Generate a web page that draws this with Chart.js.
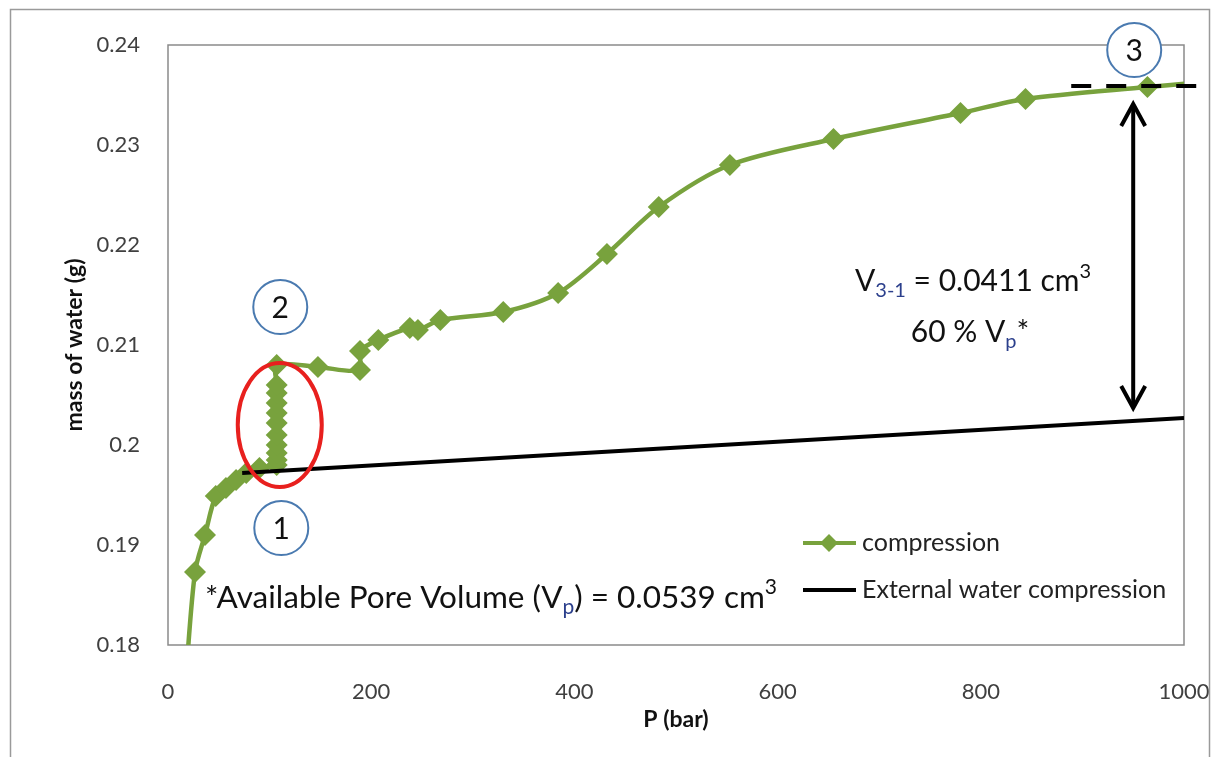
<!DOCTYPE html>
<html><head><meta charset="utf-8">
<script src="https://cdn.jsdelivr.net/npm/chart.js@4.4.0/dist/chart.umd.min.js"></script>
<style>html,body{margin:0;padding:0;background:#fff}#wrap{width:1216px;height:757px;position:relative}canvas{display:block}</style>
</head><body><div id="wrap"><canvas id="c" width="1216" height="757"></canvas></div>
<script>
// ---- data ----
const pressure = [17, 26.6, 36.4, 47, 57, 67, 77, 90,
  107, 107, 107, 107, 107, 107, 107, 107, 107, 107, 107,
  147.6, 189, 189, 207, 238, 246, 268, 330, 384, 432, 483, 553, 655, 780, 844, 964, 1010];
const massWater = [0.176, 0.1873, 0.1910, 0.1949, 0.1957, 0.1965, 0.1972, 0.1977,
  0.1980, 0.1985, 0.1992, 0.2000, 0.2010, 0.2022, 0.2032, 0.2042, 0.2052, 0.2060, 0.2080,
  0.2078, 0.2075, 0.2094, 0.2105, 0.2117, 0.2115, 0.2125, 0.2133, 0.2152, 0.2191, 0.2238, 0.2280, 0.2306, 0.2332, 0.2346, 0.2358, 0.2362];
const extPressure = [73, 1000];
const extMass = [0.1972, 0.2027];
const xTickValues = [0, 200, 400, 600, 800, 1000];
const yTickValues = [0.18, 0.19, 0.20, 0.21, 0.22, 0.23, 0.24];
const seriesNames = ['compression', 'External water compression'];

const GREEN = '#78a23d';
const FONT = 'Lato, "Open Sans", sans-serif';

const annot = {
  id: 'annot',
  beforeDatasetsDraw(chart) {
    const {ctx, chartArea: a} = chart;
    ctx.save();
    ctx.strokeStyle = '#8a8a8a'; ctx.lineWidth = 1.5;
    ctx.strokeRect(a.left, a.top, a.right - a.left, a.bottom - a.top);
    ctx.restore();
  },
  afterDraw(chart) {
    const {ctx, chartArea: a, scales: {x, y}} = chart;
    const X = v => x.getPixelForValue(v), Y = v => y.getPixelForValue(v);
    ctx.save();
    // outer frame
    ctx.strokeStyle = '#9a9a9a'; ctx.lineWidth = 1.5;
    ctx.strokeRect(10.5, 9.5, 1199, 800);
    // axis titles
    ctx.fillStyle = '#111';
    ctx.font = 'bold 23px ' + FONT;
    ctx.textAlign = 'center'; ctx.textBaseline = 'middle';
    ctx.fillText('P (bar)', (a.left + a.right) / 2, 720);
    ctx.save(); ctx.translate(75, (a.top + a.bottom) / 2); ctx.rotate(-Math.PI / 2);
    ctx.fillText('mass of water (g)', 0, 0); ctx.restore();

    // dashed line at point 3
    ctx.strokeStyle = '#000'; ctx.lineWidth = 4; ctx.setLineDash([20, 15]);
    ctx.beginPath(); ctx.moveTo(X(889), Y(0.2359)); ctx.lineTo(X(1016), Y(0.2359)); ctx.stroke();
    ctx.setLineDash([]);
    // double arrow
    const ax = X(950), yt = Y(0.2341), yb = Y(0.2037);
    ctx.lineWidth = 4; ctx.lineCap = 'butt';
    ctx.beginPath(); ctx.moveTo(ax, yt + 2); ctx.lineTo(ax, yb - 2); ctx.stroke();
    ctx.lineJoin = 'miter';
    ctx.beginPath(); ctx.moveTo(ax - 12, yt + 22); ctx.lineTo(ax, yt); ctx.lineTo(ax + 12, yt + 22); ctx.stroke();
    ctx.beginPath(); ctx.moveTo(ax - 12, yb - 22); ctx.lineTo(ax, yb); ctx.lineTo(ax + 12, yb - 22); ctx.stroke();

    // red ellipse
    ctx.strokeStyle = '#e8201e'; ctx.lineWidth = 4;
    ctx.beginPath(); ctx.ellipse(X(110), Y(0.2020), 42, 62, 0, 0, Math.PI * 2); ctx.stroke();

    // numbered circles
    const circ = (cx, cy, t) => {
      ctx.beginPath(); ctx.arc(cx, cy, 27, 0, Math.PI * 2);
      ctx.fillStyle = '#fff'; ctx.fill();
      ctx.strokeStyle = '#4a7ab0'; ctx.lineWidth = 2; ctx.stroke();
      ctx.fillStyle = '#111'; ctx.font = '30px ' + FONT;
      ctx.textAlign = 'center'; ctx.textBaseline = 'middle';
      ctx.fillText(t, cx, cy + 1);
    };
    circ(X(110.5), Y(0.2138), '2');
    circ(X(111.5), Y(0.1917), '1');
    circ(X(951), Y(0.2395), '3');

    // rich text helper
    const rich = (runs, x0, yb0, align) => {
      let w = 0;
      runs.forEach(r => { ctx.font = r.size + 'px ' + FONT; w += ctx.measureText(r.t).width; });
      let xx = align === 'center' ? x0 - w / 2 : x0;
      ctx.textAlign = 'left'; ctx.textBaseline = 'alphabetic';
      runs.forEach(r => {
        ctx.font = r.size + 'px ' + FONT; ctx.fillStyle = r.c || '#111';
        ctx.fillText(r.t, xx, yb0 + (r.dy || 0)); xx += ctx.measureText(r.t).width;
      });
    };
    const S = 30, s = 20, L = 31.5, l = 21;
    rich([{t: 'V', size: S}, {t: '3-1', size: s, dy: 6, c: '#2b3f8c'}, {t: ' = 0.0411 cm', size: S}, {t: '3', size: s, dy: -13}], 855, 291, 'left');
    rich([{t: '60 % V', size: S}, {t: 'p', size: s, dy: 6, c: '#2b3f8c'}, {t: '*', size: S}], 970, 342, 'center');
    rich([{t: '*Available Pore Volume (V', size: L}, {t: 'p', size: l, dy: 6, c: '#2b3f8c'}, {t: ') = 0.0539 cm', size: L}, {t: '3', size: l, dy: -14}], 205, 608, 'left');

    // legend
    const ds = chart.data.datasets;
    ctx.lineWidth = 4;
    ctx.strokeStyle = ds[0].borderColor;
    ctx.beginPath(); ctx.moveTo(803, 543); ctx.lineTo(856, 543); ctx.stroke();
    ctx.fillStyle = ds[0].borderColor;
    ctx.beginPath(); ctx.moveTo(829, 534); ctx.lineTo(838, 543); ctx.lineTo(829, 552); ctx.lineTo(820, 543); ctx.closePath(); ctx.fill();
    ctx.strokeStyle = ds[1].borderColor;
    ctx.beginPath(); ctx.moveTo(803, 590); ctx.lineTo(856, 590); ctx.stroke();
    ctx.fillStyle = '#222'; ctx.font = '25px ' + FONT; ctx.textAlign = 'left'; ctx.textBaseline = 'middle';
    ctx.fillText(ds[0].label, 862, 543);
    ctx.fillText(ds[1].label, 862, 590);
    ctx.restore();
  }
};

new Chart(document.getElementById('c'), {
  type: 'line',
  data: {
    datasets: [
      {
        label: seriesNames[0],
        data: pressure.map((p, i) => ({x: p, y: massWater[i]})),
        borderColor: GREEN, backgroundColor: GREEN, borderWidth: 4.5,
        pointStyle: 'rectRot', pointRadius: 11, pointHoverRadius: 11,
        pointBackgroundColor: GREEN, pointBorderWidth: 0,
        tension: 0.3, clip: 0, order: 1
      },
      {
        label: seriesNames[1],
        data: extPressure.map((p, i) => ({x: p, y: extMass[i]})),
        borderColor: '#000', borderWidth: 4, pointRadius: 0, tension: 0, clip: 0, order: 0
      }
    ]
  },
  options: {
    responsive: false, animation: false, devicePixelRatio: 1,
    layout: {autoPadding: false, padding: {left: 10, top: 45, right: 32, bottom: 0}},
    plugins: {legend: {display: false}, tooltip: {enabled: false}},
    scales: {
      x: {
        type: 'linear', min: 0, max: 1000,
        afterBuildTicks: sc => { sc.ticks = xTickValues.map(v => ({value: v})); },
        afterFit: sc => { sc.height = 112; sc.paddingLeft = 0; sc.paddingRight = 0; },
        grid: {display: false, drawTicks: false},
        border: {display: false},
        ticks: {padding: 34, color: '#404040', font: {family: FONT, size: 22},
          callback: v => String(v)}
      },
      y: {
        type: 'linear', min: 0.18, max: 0.24,
        afterBuildTicks: sc => { sc.ticks = yTickValues.map(v => ({value: v})); },
        afterFit: sc => { sc.width = 158; sc.paddingTop = 0; sc.paddingBottom = 0; },
        grid: {display: false, drawTicks: false},
        border: {display: false},
        ticks: {padding: 28, color: '#404040', font: {family: FONT, size: 22},
          callback: v => String(+(+v).toFixed(4))}
      }
    }
  },
  plugins: [annot]
});
</script></body></html>
